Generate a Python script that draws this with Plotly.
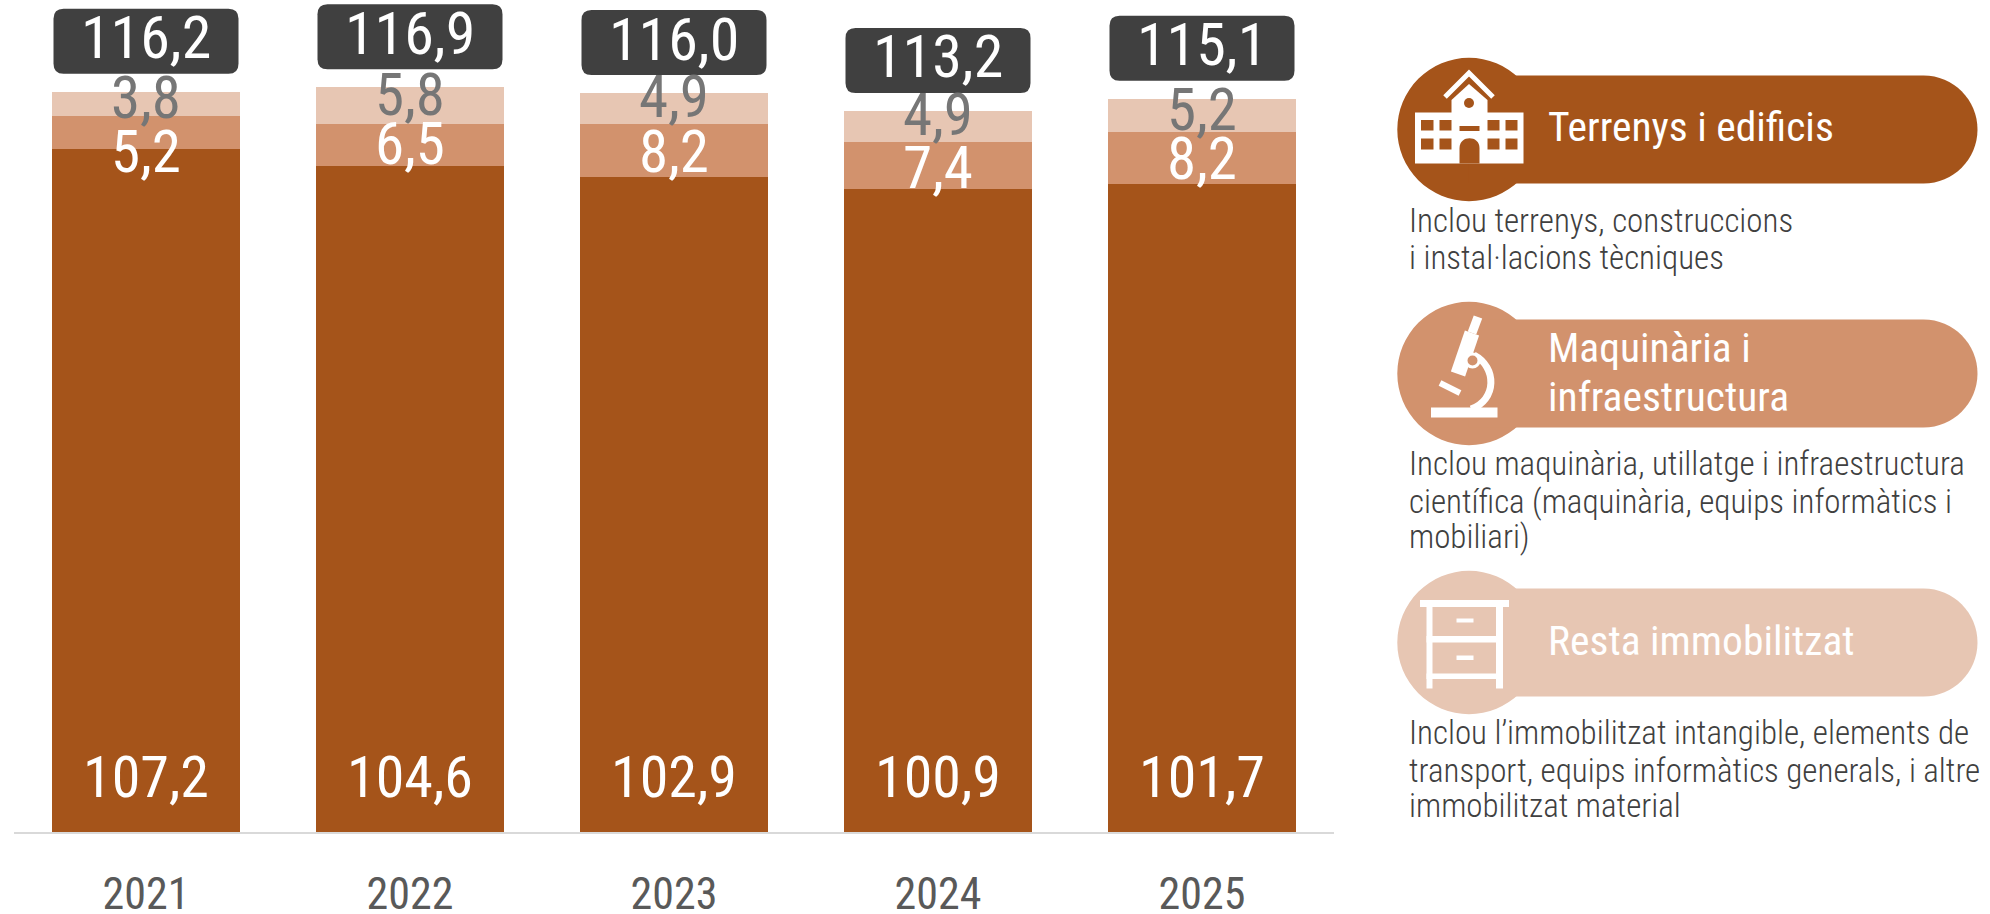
import re
import plotly.graph_objects as go

# ---------- data ----------
years = ["2021", "2022", "2023", "2024", "2025"]
terrenys = [107.2, 104.6, 102.9, 100.9, 101.7]
maquinaria = [5.2, 6.5, 8.2, 7.4, 8.2]
resta = [3.8, 5.8, 4.9, 4.9, 5.2]
totals = [116.2, 116.9, 116.0, 113.2, 115.1]

legend_titles = [["Terrenys i edificis"], ["Maquinària i", "infraestructura"], ["Resta immobilitzat"]]
legend_notes = [
    ["Inclou terrenys, construccions", "i instal·lacions tècniques"],
    ["Inclou maquinària, utillatge i infraestructura", "científica (maquinària, equips informàtics i", "mobiliari)"],
    ["Inclou l’immobilitzat intangible, elements de",
     "transport, equips informàtics generals, i altre", "immobilitzat material"],
]

# ---------- style ----------
W, H = 1990, 914
BROWN, MID, LIGHT = "#A5541A", "#D2926D", "#E7C6B3"
DARK = "#404040"
GREY = "#767676"
FONT = "Roboto Condensed, Liberation Sans, sans-serif"

PX_PER_UNIT = 6.37
BASE_Y = 832
PLOT_L, PLOT_R = 14, 1334


def comma(v):
    return f"{v:.1f}".replace(".", ",")


def fx(px):
    return px / W


def fy(py):
    return 1 - py / H


def path(d):
    """Convert an 'M x y L x y ...' string given in window pixels to paper fractions."""
    nums = iter(re.findall(r"-?\d+\.?\d*|[A-Za-z]", d))
    out = []
    for tok in nums:
        if tok.isalpha():
            out.append(tok)
        else:
            y = next(nums)
            out.append(f"{fx(float(tok)):.5f},{fy(float(y)):.5f}")
    return " ".join(out)


fig = go.Figure()
for name, vals, col in [("Terrenys i edificis", terrenys, BROWN),
                        ("Maquinària i infraestructura", maquinaria, MID),
                        ("Resta immobilitzat", resta, LIGHT)]:
    fig.add_bar(x=years, y=vals, name=name, marker=dict(color=col, line=dict(width=0)), width=0.715,
                hoverinfo="x+y")

annotations = []
shapes = []


def note(x, y, text, size, color, xanchor="center", yshift=0, xref="x", yref="y", weight=None):
    annotations.append(dict(x=x, y=y, text=text, xref=xref, yref=yref, showarrow=False,
                            xanchor=xanchor, yanchor="middle", yshift=yshift,
                            font=dict(family=FONT, size=size, color=color, weight=weight)))


# pixel nudges of the value labels from the segment centres
top_nudge = [6, 11, 12, 12, 6]
mid_nudge = [-19, 2, -1, -2, 0]

for i, yr in enumerate(years):
    # total pill, anchored to the top of the stack (category axes take the category index here)
    t = totals[i]
    r, hw, y0, y1 = 10, 92.5, 18, 83
    shapes.append(dict(type="path", xref="x", yref="y", xsizemode="pixel", ysizemode="pixel",
                       xanchor=i, yanchor=t, layer="above", fillcolor=DARK, line=dict(width=0),
                       path=(f"M {-hw + r} {y0} L {hw - r} {y0} Q {hw} {y0} {hw} {y0 + r} "
                             f"L {hw} {y1 - r} Q {hw} {y1} {hw - r} {y1} L {-hw + r} {y1} "
                             f"Q {-hw} {y1} {-hw} {y1 - r} L {-hw} {y0 + r} Q {-hw} {y0} {-hw + r} {y0} Z")))
    note(i, t, comma(t), 60, "white", yshift=54)
    note(i, terrenys[i], comma(terrenys[i]), 58, "white",
         yshift=55 - terrenys[i] * PX_PER_UNIT)
    note(i, terrenys[i] + maquinaria[i] / 2, comma(maquinaria[i]), 59, "white", yshift=mid_nudge[i])
    note(i, terrenys[i] + maquinaria[i] + resta[i] / 2, comma(resta[i]), 59, GREY, yshift=top_nudge[i])

# ---------- right-hand key ----------
key_cy = [129.5, 373.5, 642.5]
key_col = [BROWN, MID, LIGHT]
title_y = [[126], [347, 396], [640]]
note_y = [[220, 258], [463, 501, 536], [732, 770, 805]]
CX, CR, BAR_R, BAR_RIGHT = 1469, 71.7, 54, 1977.5
k = 0.5523 * BAR_R

for c, cy, titles, tys, notes, nys in zip(key_col, key_cy, legend_titles, title_y, legend_notes, note_y):
    shapes.append(dict(type="circle", xref="paper", yref="paper", fillcolor=c, line=dict(width=0), layer="above",
                       x0=fx(CX - CR), x1=fx(CX + CR), y0=fy(cy + CR), y1=fy(cy - CR)))
    a, b = BAR_RIGHT - BAR_R, BAR_RIGHT
    shapes.append(dict(type="path", xref="paper", yref="paper", fillcolor=c, line=dict(width=0), layer="above",
                       path=path(f"M {CX} {cy - BAR_R} L {a} {cy - BAR_R} "
                                 f"C {a + k} {cy - BAR_R} {b} {cy - k} {b} {cy} "
                                 f"C {b} {cy + k} {a + k} {cy + BAR_R} {a} {cy + BAR_R} "
                                 f"L {CX} {cy + BAR_R} Z")))
    for s, y in zip(titles, tys):
        note(fx(1546), fy(y), s, 41.5, "white", xanchor="left", xref="paper", yref="paper")
    for s, y in zip(notes, nys):
        note(fx(1407), fy(y), s, 33, DARK, xanchor="left", xref="paper", yref="paper", weight=300)


def rect(x0, y0, x1, y1, color="white"):
    shapes.append(dict(type="rect", xref="paper", yref="paper", layer="above", fillcolor=color, line=dict(width=0),
                       x0=fx(x0), x1=fx(x1), y0=fy(y1), y1=fy(y0)))


def poly(d, fill="white"):
    shapes.append(dict(type="path", xref="paper", yref="paper", layer="above", fillcolor=fill,
                       line=dict(width=0), path=path(d)))


def stroke(d, width, color="white"):
    shapes.append(dict(type="path", xref="paper", yref="paper", layer="above", fillcolor="rgba(0,0,0,0)",
                       line=dict(width=width, color=color), path=path(d)))


# school icon
rect(1415, 112.5, 1523.5, 163.5)
poly("M 1451.5 113 L 1451.5 100 L 1469 84 L 1487.5 100 L 1487.5 113 Z")
stroke("M 1445 97 L 1469 73 L 1493 97", 5)
shapes.append(dict(type="circle", xref="paper", yref="paper", layer="above", fillcolor=BROWN, line=dict(width=0),
                   x0=fx(1464), x1=fx(1474), y0=fy(108), y1=fy(98)))
for x0, x1 in [(1421, 1433.5), (1439.5, 1451.5), (1487.5, 1499.5), (1505.5, 1517.5)]:
    rect(x0, 120, x1, 130.5, BROWN)
    rect(x0, 138.5, x1, 149.5, BROWN)
rect(1459.5, 126, 1479.5, 131, BROWN)
poly("M 1459.5 163.5 L 1459.5 148 C 1459.5 135 1479.5 135 1479.5 148 L 1479.5 163.5 Z", BROWN)

# microscope icon
rect(1431, 407.5, 1497.5, 417.5)
stroke("M 1458 374 L 1472 333", 15)
stroke("M 1472 333 L 1478 317", 9)
stroke("M 1440 383 L 1460 393", 6)
stroke("M 1474 355 C 1497 367 1497 400 1471 409", 7)
shapes.append(dict(type="circle", xref="paper", yref="paper", layer="above", fillcolor=MID,
                   line=dict(width=3, color="white"),
                   x0=fx(1466), x1=fx(1479), y0=fy(367), y1=fy(354)))

# chest-of-drawers icon
rect(1420, 600, 1509, 607)
rect(1426.5, 606, 1432.5, 688.5)
rect(1496, 606, 1503, 688.5)
rect(1426.5, 636, 1503, 642.5)
rect(1426.5, 673.5, 1503, 679)
rect(1456.5, 618.5, 1473.5, 622.5)
rect(1456.5, 655.5, 1473.5, 660)

fig.update_layout(
    width=W, height=H, barmode="stack", showlegend=False, bargap=0.285,
    paper_bgcolor="white", plot_bgcolor="white",
    margin=dict(l=0, r=0, t=0, b=0),
    xaxis=dict(domain=[fx(PLOT_L), fx(PLOT_R)], type="category", range=[-0.5, 4.5], automargin=False,
               showgrid=False, zeroline=False, showline=True, linecolor="#D9D9D9", linewidth=2,
               ticks="", ticklabelstandoff=22, tickfont=dict(family=FONT, size=44, color="#595959")),
    yaxis=dict(domain=[fy(BASE_Y), 1], range=[0, BASE_Y / PX_PER_UNIT], visible=False, automargin=False,
               showgrid=False, zeroline=False),
    annotations=annotations, shapes=shapes,
)

# the figure fills the whole window, so drop the page's default body margin
fig.write_html("out.html", config={"displayModeBar": False},
               post_script="document.body.style.margin='0';document.documentElement.style.overflow='hidden';")
